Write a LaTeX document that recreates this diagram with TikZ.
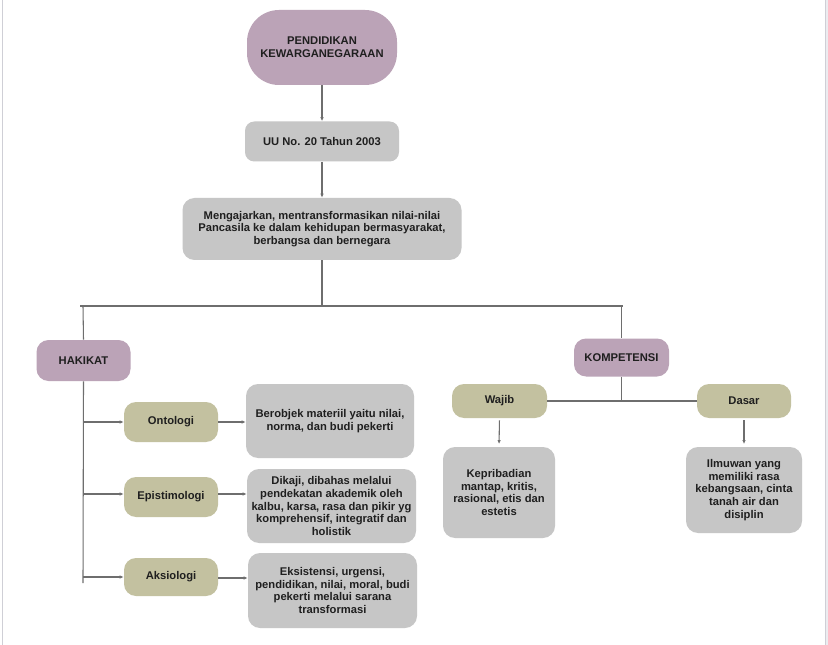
\documentclass[tikz,border=0pt]{standalone}
\usepackage{fontspec}
\setmainfont{Liberation Sans}
\usetikzlibrary{arrows.meta}
\definecolor{purp}{HTML}{BBA3B7}
\definecolor{olive}{HTML}{C3C1A0}
\definecolor{greybox}{HTML}{C6C6C6}
\definecolor{lin}{HTML}{6E6E6E}
\definecolor{frame}{HTML}{CFCFD6}
\definecolor{side}{HTML}{ECECF0}
\tikzset{
  box/.style={rounded corners=9pt, inner sep=0pt, align=center,
    font=\bfseries\fontsize{8.4}{9.6}\selectfont, text=black!88},
  pbox/.style={box, fill=purp},
  obox/.style={box, fill=olive},
  gbox/.style={box, fill=greybox},
  conn/.style={draw=lin, line width=0.8pt},
  arr/.style={conn, -{Latex[length=3pt,width=2.6pt]}}
}
\begin{document}
\begin{tikzpicture}[x=0.75pt,y=-0.75pt]
\useasboundingbox (0,0) rectangle (828,645);
\fill[white] (0,0) rectangle (828,645);
\fill[side] (825,0) rectangle (828,645);
\draw[frame, line width=0.8pt] (2.5,0) -- (2.5,645);
\draw[frame, line width=0.8pt] (825.3,0) -- (825.3,645);

% top chain
\node[pbox, rounded corners=24pt, minimum width=112.5pt, minimum height=56.25pt] (pk) at (322,47.5) {PENDIDIKAN\\KEWARGANEGARAAN};
\node[gbox, rounded corners=7pt, minimum width=115.5pt, minimum height=30pt] (uu) at (322,141.5) {UU No. 20 Tahun 2003};
\node[gbox, minimum width=209.25pt, minimum height=46.5pt] (mg) at (322,229) {Mengajarkan, mentransformasikan nilai-nilai\\Pancasila ke dalam kehidupan bermasyarakat,\\berbangsa dan bernegara};

% hakikat side
\node[pbox, minimum width=70.5pt, minimum height=30.75pt] (hk) at (83.5,360.5) {HAKIKAT};
\node[obox, minimum width=70.5pt, minimum height=30pt] (ont) at (171,422) {Ontologi};
\node[obox, minimum width=70.5pt, minimum height=30pt] (epi) at (171,497) {Epistimologi};
\node[obox, minimum width=70.5pt, minimum height=28.5pt] (aks) at (171,577) {Aksiologi};
\node[gbox, minimum width=126pt, minimum height=55.5pt] (ber) at (330,421) {Berobjek materiil yaitu nilai,\\norma, dan budi pekerti};
\node[gbox, minimum width=126.75pt, minimum height=55.5pt] (dik) at (331.5,506) {Dikaji, dibahas melalui\\pendekatan akademik oleh\\kalbu, karsa, rasa dan pikir yg\\komprehensif, integratif dan\\holistik};
\node[gbox, minimum width=126.75pt, minimum height=56.25pt] (eks) at (332.5,590.5) {Eksistensi, urgensi,\\pendidikan, nilai, moral, budi\\pekerti melalui sarana\\transformasi};

% kompetensi side
\node[pbox, minimum width=71.25pt, minimum height=28.5pt] (kp) at (621.5,357.5) {KOMPETENSI};
\node[obox, minimum width=71.25pt, minimum height=25.5pt] (wj) at (499.5,401) {Wajib};
\node[obox, minimum width=70.5pt, minimum height=25.5pt] (ds) at (744,401) {Dasar};
\node[gbox, minimum width=84pt, minimum height=68.25pt] (kep) at (499,492.5) {Kepribadian\\mantap, kritis,\\rasional, etis dan\\estetis};
\node[gbox, minimum width=87pt, minimum height=64.5pt] (ilm) at (744,490) {Ilmuwan yang\\memiliki rasa\\kebangsaan, cinta\\tanah air dan\\disiplin};

% coordinates
\coordinate (mgb) at (322,306);
\coordinate (hl) at (80,306);
\coordinate (hr) at (623,306);
\coordinate (hkv) at (83,306);
\coordinate (kpv) at (621.5,306);
\coordinate (vend) at (83,583);
\coordinate (kj) at (621.5,401);

% connectors
\draw[arr] (pk.south) -- (uu.north);
\draw[arr] (uu.south) -- (mg.north);
\draw[conn] (mg.south) -- (mgb);
\draw[conn] (hl) -- (hr);
\draw[conn] (hkv) -- (hk.north);
\draw[conn] (kpv) -- (kp.north);
\draw[conn] (hk.south) -- (vend);
\draw[arr] (ont.west -| hk.south) -- (ont.west);
\draw[arr] (83,494) -- (83,494 -| epi.west);
\draw[arr] (83,577) -- (83,577 -| aks.west);
\draw[arr] (ont.east) -- (ont.east -| ber.west);
\draw[arr] (218,494) -- (218,494 -| dik.west);
\draw[arr] (218,578) -- (218,578 -| eks.west);

\draw[conn] (kp.south) -- (kj);
\draw[conn] (wj.east) -- (ds.west);
\draw[arr, shorten <=1.5pt, shorten >=2pt] (wj.south) -- (kep.north);
\draw[arr, shorten <=1.5pt, shorten >=2pt] (ds.south) -- (ilm.north);
\end{tikzpicture}
\end{document}
